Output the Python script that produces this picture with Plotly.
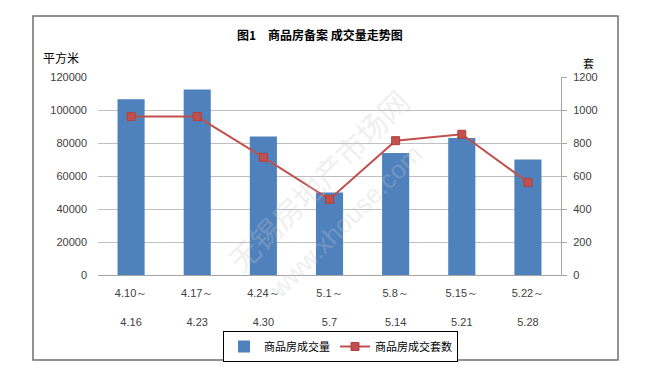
import plotly.graph_objects as go

categories = ["4.10～<br><br>4.16", "4.17～<br><br>4.23", "4.24～<br><br>4.30", "5.1～<br><br>5.7",
              "5.8～<br><br>5.14", "5.15～<br><br>5.21", "5.22～<br><br>5.28"]
area_values = [106500, 112500, 84000, 50000, 74000, 83000, 70000]
unit_values = [960, 960, 713, 459, 814, 853, 562]
left_ticks = [0, 20000, 40000, 60000, 80000, 100000, 120000]
right_ticks = [0, 200, 400, 600, 800, 1000, 1200]

OFF = 8  # page body margin
W, H = 649 - 2 * OFF, 378 - 2 * OFF
L, R, T, B = 98 - OFF, 561 - OFF, 77 - OFF, 275 - OFF

def px(x):
    return (x - OFF - L) / (R - L)

def py(y):
    return (B - (y - OFF)) / (B - T)

num_font = dict(family="Liberation Sans, Arial, sans-serif", size=11, color="#404040")
cjk = "Noto Sans CJK SC, sans-serif"

fig = go.Figure()
fig.add_trace(go.Bar(
    x=categories, y=area_values, name="商品房成交量",
    marker=dict(color="#4f81bd", line=dict(width=0)),
    width=0.41, yaxis="y",
))
fig.add_trace(go.Scatter(
    x=categories, y=unit_values, name="商品房成交套数", yaxis="y2",
    mode="lines+markers",
    line=dict(color="#c0504d", width=2),
    marker=dict(symbol="square", size=8, color="#c0504d", line=dict(color="#b0403d", width=1)),
))

def label(text, x, y, size=12, family=cjk, color="#000000", angle=0):
    return dict(text=text, xref="paper", yref="paper", x=px(x), y=py(y),
                xanchor="center", yanchor="middle", showarrow=False, textangle=angle,
                font=dict(family=family, size=size, color=color))

fig.update_layout(
    width=W, height=H,
    margin=dict(l=L, r=W - R, t=T, b=H - B, autoexpand=False),
    paper_bgcolor="white", plot_bgcolor="white",
    showlegend=True,
    xaxis=dict(
        type="category", showgrid=False, showline=True, linecolor="#a6a6a6", linewidth=1,
        ticks="", tickfont=dict(family="Liberation Sans, Arial, sans-serif", size=11, color="#404040"),
        ticklabelstandoff=8, fixedrange=True, automargin=False,
    ),
    yaxis=dict(
        range=[0, 120000], tickvals=left_ticks, ticktext=[str(v) for v in left_ticks],
        showgrid=True, gridcolor="#bfbfbf", gridwidth=1, zeroline=False, showline=False,
        ticks="", tickfont=num_font, ticklabelstandoff=10, automargin=False,
    ),
    yaxis2=dict(
        range=[0, 1200], tickvals=right_ticks, ticktext=[str(v) for v in right_ticks],
        overlaying="y", side="right", showgrid=False, zeroline=False,
        showline=True, linecolor="#a6a6a6", linewidth=1,
        ticks="outside", ticklen=5, tickcolor="#a6a6a6", tickfont=num_font,
        ticklabelstandoff=4, automargin=False,
    ),
    legend=dict(
        orientation="h", x=px(223), y=py(331), xanchor="left", yanchor="top",
        bordercolor="#000000", borderwidth=1, bgcolor="white",
        font=dict(family=cjk, size=11, color="#000000"),
        itemwidth=30, tracegroupgap=0,
    ),
    shapes=[
        dict(type="rect", xref="paper", yref="paper",
             x0=px(33), x1=px(618), y0=py(360), y1=py(16),
             line=dict(color="#6f6f6f", width=1.5), layer="below"),
    ],
    annotations=[
        label("<b>图1　商品房备案 成交量走势图</b>", 320, 35, size=12),
        label("平方米", 61, 58, size=12),
        label("套", 588, 63, size=11),
        label("无锡房地产市场网", 318, 180, size=30, color="rgba(200,200,200,0.3)", angle=-45),
        label("www.xhouse.com", 345, 222, size=26, family="Liberation Sans, sans-serif",
              color="rgba(200,200,200,0.3)", angle=-45),
    ],
)

fig.write_html("out.html")
